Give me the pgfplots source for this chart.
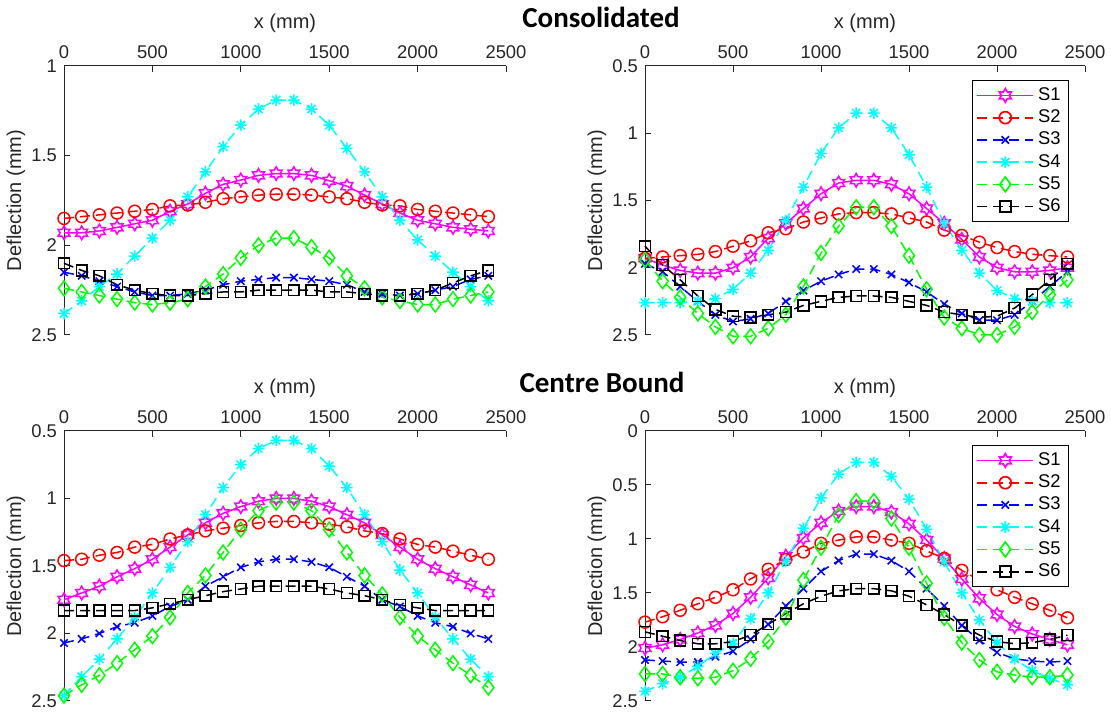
\documentclass[border=0pt]{standalone}
\usepackage{fontspec}
\setmainfont{Liberation Sans}
\newfontfamily\titlefont{Carlito}
\usepackage{pgfplots}
\usepackage{pgfplotstable}
\pgfplotsset{compat=1.18}
\definecolor{axgray}{rgb}{0.15,0.15,0.15}
\definecolor{mmag}{rgb}{1,0,1}
\definecolor{mred}{rgb}{1,0,0}
\definecolor{mblue}{rgb}{0,0,1}
\definecolor{mcyan}{rgb}{0,1,1}
\definecolor{mgreen}{rgb}{0,1,0}

% six-pointed star outline (MATLAB 'hexagram')
\pgfdeclareplotmark{hexagram}{%
  \pgfpathmoveto{\pgfpointpolar{90}{\pgfplotmarksize}}%
  \pgfpathlineto{\pgfpointpolar{120}{0.577\pgfplotmarksize}}%
  \pgfpathlineto{\pgfpointpolar{150}{\pgfplotmarksize}}%
  \pgfpathlineto{\pgfpointpolar{180}{0.577\pgfplotmarksize}}%
  \pgfpathlineto{\pgfpointpolar{210}{\pgfplotmarksize}}%
  \pgfpathlineto{\pgfpointpolar{240}{0.577\pgfplotmarksize}}%
  \pgfpathlineto{\pgfpointpolar{270}{\pgfplotmarksize}}%
  \pgfpathlineto{\pgfpointpolar{300}{0.577\pgfplotmarksize}}%
  \pgfpathlineto{\pgfpointpolar{330}{\pgfplotmarksize}}%
  \pgfpathlineto{\pgfpointpolar{0}{0.577\pgfplotmarksize}}%
  \pgfpathlineto{\pgfpointpolar{30}{\pgfplotmarksize}}%
  \pgfpathlineto{\pgfpointpolar{60}{0.577\pgfplotmarksize}}%
  \pgfpathclose
  \pgfusepathqstroke
}
% eight-armed asterisk (MATLAB '*')
\pgfdeclareplotmark{mstar}{%
  \pgfpathmoveto{\pgfqpoint{0pt}{\pgfplotmarksize}}%
  \pgfpathlineto{\pgfqpoint{0pt}{-\pgfplotmarksize}}%
  \pgfpathmoveto{\pgfqpoint{\pgfplotmarksize}{0pt}}%
  \pgfpathlineto{\pgfqpoint{-\pgfplotmarksize}{0pt}}%
  \pgfpathmoveto{\pgfqpoint{0.7071\pgfplotmarksize}{0.7071\pgfplotmarksize}}%
  \pgfpathlineto{\pgfqpoint{-0.7071\pgfplotmarksize}{-0.7071\pgfplotmarksize}}%
  \pgfpathmoveto{\pgfqpoint{-0.7071\pgfplotmarksize}{0.7071\pgfplotmarksize}}%
  \pgfpathlineto{\pgfqpoint{0.7071\pgfplotmarksize}{-0.7071\pgfplotmarksize}}%
  \pgfusepathqstroke
}

% Consolidated, left
\pgfplotstableread{
x s1 s2 s3 s4 s5 s6
0 1.93 1.85 2.15 2.38 2.24 2.10
100 1.93 1.84 2.17 2.31 2.26 2.14
200 1.92 1.83 2.20 2.23 2.28 2.17
300 1.90 1.82 2.23 2.16 2.30 2.22
400 1.88 1.81 2.26 2.06 2.32 2.25
500 1.86 1.80 2.28 1.96 2.33 2.27
600 1.81 1.78 2.28 1.86 2.32 2.28
700 1.77 1.775 2.27 1.73 2.30 2.28
800 1.71 1.76 2.25 1.59 2.23 2.27
900 1.66 1.74 2.22 1.45 2.16 2.26
1000 1.636 1.73 2.20 1.33 2.07 2.26
1100 1.61 1.72 2.19 1.24 2.00 2.25
1200 1.60 1.715 2.18 1.19 1.96 2.25
1300 1.60 1.715 2.18 1.19 1.96 2.25
1400 1.61 1.72 2.19 1.24 2.01 2.25
1500 1.64 1.73 2.20 1.33 2.07 2.26
1600 1.67 1.74 2.22 1.46 2.17 2.26
1700 1.72 1.76 2.26 1.59 2.24 2.27
1800 1.77 1.775 2.27 1.73 2.29 2.28
1900 1.82 1.78 2.28 1.86 2.31 2.28
2000 1.86 1.80 2.27 1.97 2.33 2.27
2100 1.88 1.81 2.25 2.06 2.33 2.25
2200 1.90 1.82 2.23 2.15 2.30 2.21
2300 1.91 1.83 2.19 2.23 2.28 2.17
2400 1.92 1.84 2.17 2.31 2.26 2.14
}\consL

% Consolidated, right
\pgfplotstableread{
x s1 s2 s3 s4 s5 s6
0 1.93 1.93 1.97 2.26 1.94 1.84
100 1.98 1.92 2.03 2.26 2.10 1.98
200 2.02 1.91 2.14 2.26 2.22 2.09
300 2.04 1.90 2.25 2.25 2.34 2.21
400 2.04 1.88 2.35 2.23 2.44 2.31
500 2.00 1.84 2.40 2.16 2.51 2.36
600 1.92 1.80 2.38 2.04 2.51 2.37
700 1.78 1.74 2.34 1.87 2.45 2.35
800 1.67 1.71 2.25 1.65 2.35 2.33
900 1.56 1.66 2.17 1.40 2.14 2.28
1000 1.45 1.63 2.10 1.15 1.89 2.25
1100 1.37 1.60 2.05 0.96 1.69 2.22
1200 1.35 1.59 2.01 0.85 1.55 2.21
1300 1.35 1.59 2.01 0.85 1.55 2.21
1400 1.38 1.60 2.05 0.96 1.69 2.22
1500 1.45 1.63 2.11 1.16 1.91 2.25
1600 1.56 1.66 2.18 1.40 2.16 2.28
1700 1.67 1.72 2.27 1.67 2.37 2.33
1800 1.79 1.76 2.34 1.87 2.45 2.35
1900 1.92 1.81 2.39 2.04 2.50 2.37
2000 2.00 1.85 2.39 2.17 2.50 2.36
2100 2.03 1.88 2.35 2.23 2.44 2.30
2200 2.03 1.90 2.25 2.25 2.33 2.20
2300 2.02 1.91 2.14 2.26 2.20 2.09
2400 2.00 1.92 2.03 2.26 2.09 1.97
}\consR

% Centre Bound, left
\pgfplotstableread{
x s1 s2 s3 s4 s5 s6
0 1.75 1.46 2.07 2.46 2.46 1.83
100 1.70 1.45 2.04 2.32 2.38 1.83
200 1.65 1.42 2.00 2.19 2.31 1.83
300 1.58 1.40 1.95 2.04 2.22 1.83
400 1.52 1.36 1.92 1.88 2.12 1.83
500 1.45 1.34 1.87 1.70 2.02 1.81
600 1.36 1.30 1.80 1.51 1.88 1.78
700 1.27 1.27 1.75 1.32 1.70 1.75
800 1.18 1.24 1.65 1.12 1.57 1.72
900 1.11 1.22 1.58 0.92 1.40 1.69
1000 1.06 1.20 1.51 0.75 1.23 1.67
1100 1.02 1.18 1.47 0.63 1.09 1.65
1200 1.00 1.17 1.45 0.57 1.03 1.65
1300 1.00 1.17 1.45 0.57 1.03 1.65
1400 1.02 1.18 1.47 0.63 1.09 1.65
1500 1.06 1.19 1.51 0.76 1.23 1.67
1600 1.12 1.21 1.58 0.92 1.40 1.70
1700 1.18 1.24 1.65 1.12 1.57 1.72
1800 1.27 1.26 1.75 1.32 1.71 1.75
1900 1.36 1.30 1.80 1.53 1.88 1.79
2000 1.45 1.34 1.87 1.70 2.02 1.81
2100 1.52 1.36 1.92 1.88 2.12 1.83
2200 1.58 1.39 1.95 2.04 2.22 1.83
2300 1.64 1.42 2.00 2.19 2.31 1.83
2400 1.70 1.45 2.04 2.32 2.40 1.83
}\cbL

% Centre Bound, right
\pgfplotstableread{
x s1 s2 s3 s4 s5 s6
0 2.01 1.77 2.12 2.41 2.25 1.86
100 1.98 1.72 2.13 2.34 2.25 1.90
200 1.93 1.66 2.14 2.28 2.28 1.94
300 1.87 1.60 2.14 2.18 2.29 1.97
400 1.80 1.54 2.09 2.06 2.28 1.97
500 1.69 1.47 2.04 1.97 2.22 1.95
600 1.54 1.37 1.93 1.74 2.11 1.89
700 1.36 1.28 1.79 1.50 1.95 1.79
800 1.16 1.19 1.62 1.21 1.73 1.69
900 0.99 1.12 1.46 0.90 1.38 1.60
1000 0.85 1.04 1.30 0.62 1.08 1.53
1100 0.74 1.01 1.20 0.40 0.78 1.48
1200 0.70 0.98 1.14 0.29 0.65 1.46
1300 0.70 0.98 1.14 0.29 0.65 1.46
1400 0.75 1.01 1.20 0.42 0.81 1.48
1500 0.86 1.04 1.30 0.63 1.08 1.53
1600 1.01 1.11 1.46 0.91 1.41 1.61
1700 1.18 1.18 1.62 1.21 1.73 1.70
1800 1.37 1.29 1.80 1.50 1.96 1.80
1900 1.55 1.38 1.94 1.75 2.12 1.89
2000 1.70 1.47 2.05 1.96 2.23 1.95
2100 1.81 1.54 2.11 2.11 2.26 1.97
2200 1.88 1.60 2.13 2.22 2.28 1.96
2300 1.93 1.66 2.14 2.29 2.28 1.93
2400 1.98 1.73 2.13 2.35 2.26 1.89
}\cbR

\pgfplotsset{
  defl/.style={
    scale only axis,
    xmin=0, xmax=2500,
    y dir=reverse,
    axis x line*=top,
    axis y line*=left,
    axis line style={axgray, line width=0.5pt},
    tick style={axgray, line width=0.5pt},
    tick align=inside,
    major tick length=2.8pt,
    xtick={0,500,1000,1500,2000,2500},
    ticklabel style={font=\fontsize{9.2}{11}\selectfont, text=axgray},
    /pgf/number format/assume math mode=true,
    /pgf/number format/fixed,
    /pgf/number format/1000 sep={},
    xlabel={x (mm)},
    ylabel={Deflection (mm)},
    label style={font=\fontsize{10}{12}\selectfont, text=axgray},
    xlabel style={at={(axis description cs:0.5,1)}, anchor=center, yshift=21.5pt},
    ylabel style={at={(axis description cs:-0.109,0.5)}, anchor=center},
    clip=false,
    legend cell align=left,
    legend style={
      at={(axis description cs:0.964,0.948)},
      anchor=north east,
      draw=black, line width=0.5pt, fill=white,
      font=\fontsize{9.2}{10}\selectfont,
      inner xsep=2pt, inner ysep=1.5pt,
      row sep=-0.8pt
    },
    legend image code/.code={%
      \draw[mark repeat=2, mark phase=2, #1, line width=0.85pt]
        plot coordinates {(0pt,0pt) (14pt,0pt) (28pt,0pt)};
    },
  },
  s1/.style={mmag, line width=0.75pt, solid, mark=hexagram, mark size=3.4pt, mark options={solid}},
  s2/.style={mred, line width=0.75pt, dash pattern=on 5pt off 3pt, mark=o, mark size=3pt, mark options={solid}},
  s3/.style={mblue, line width=0.75pt, dash pattern=on 5pt off 3pt, mark=x, mark size=2.6pt, mark options={solid}},
  s4/.style={mcyan, line width=0.75pt, dash pattern=on 5pt off 3pt, mark=mstar, mark size=2.9pt, mark options={solid}},
  s5/.style={mgreen, line width=0.75pt, dash pattern=on 5pt off 3pt, mark=diamond, mark size=3.7pt, mark options={solid}},
  s6/.style={black, line width=0.75pt, dash pattern=on 5pt off 3pt, mark=square, mark size=2.7pt, mark options={solid}},
}

\newcommand{\sixseries}[1]{%
  \addplot[s1] table[x=x, y=s1] {#1};
  \addplot[s2] table[x=x, y=s2] {#1};
  \addplot[s3] table[x=x, y=s3] {#1};
  \addplot[s4] table[x=x, y=s4] {#1};
  \addplot[s5] table[x=x, y=s5] {#1};
  \addplot[s6] table[x=x, y=s6] {#1};
}

\begin{document}
\begin{tikzpicture}
  \useasboundingbox (0,0) rectangle (555.5pt,357.5pt);

  \node[font=\titlefont\bfseries\fontsize{14.5}{17}\selectfont] at (300.5pt,349pt) {Consolidated};
  \node[font=\titlefont\bfseries\fontsize{14.5}{17}\selectfont] at (301pt,166.5pt) {Centre Bound};

  % Consolidated
  \begin{axis}[defl, at={(32pt,324.5pt)}, anchor=north west,
      width=221pt, height=134.5pt,
      ymin=1, ymax=2.5, ytick={1,1.5,2,2.5}]
    \sixseries{\consL}
  \end{axis}

  \begin{axis}[defl, at={(322.5pt,324.5pt)}, anchor=north west,
      width=220pt, height=134.5pt,
      ymin=0.5, ymax=2.5, ytick={0.5,1,1.5,2,2.5}]
    \sixseries{\consR}
    \legend{S1,S2,S3,S4,S5,S6}
  \end{axis}

  % Centre Bound
  \begin{axis}[defl, at={(32pt,142pt)}, anchor=north west,
      width=221pt, height=135pt,
      ymin=0.5, ymax=2.5, ytick={0.5,1,1.5,2,2.5}]
    \sixseries{\cbL}
  \end{axis}

  \begin{axis}[defl, at={(322.5pt,142pt)}, anchor=north west,
      width=220pt, height=135pt,
      ymin=0, ymax=2.5, ytick={0,0.5,1,1.5,2,2.5}]
    \sixseries{\cbR}
    \legend{S1,S2,S3,S4,S5,S6}
  \end{axis}
\end{tikzpicture}
\end{document}
